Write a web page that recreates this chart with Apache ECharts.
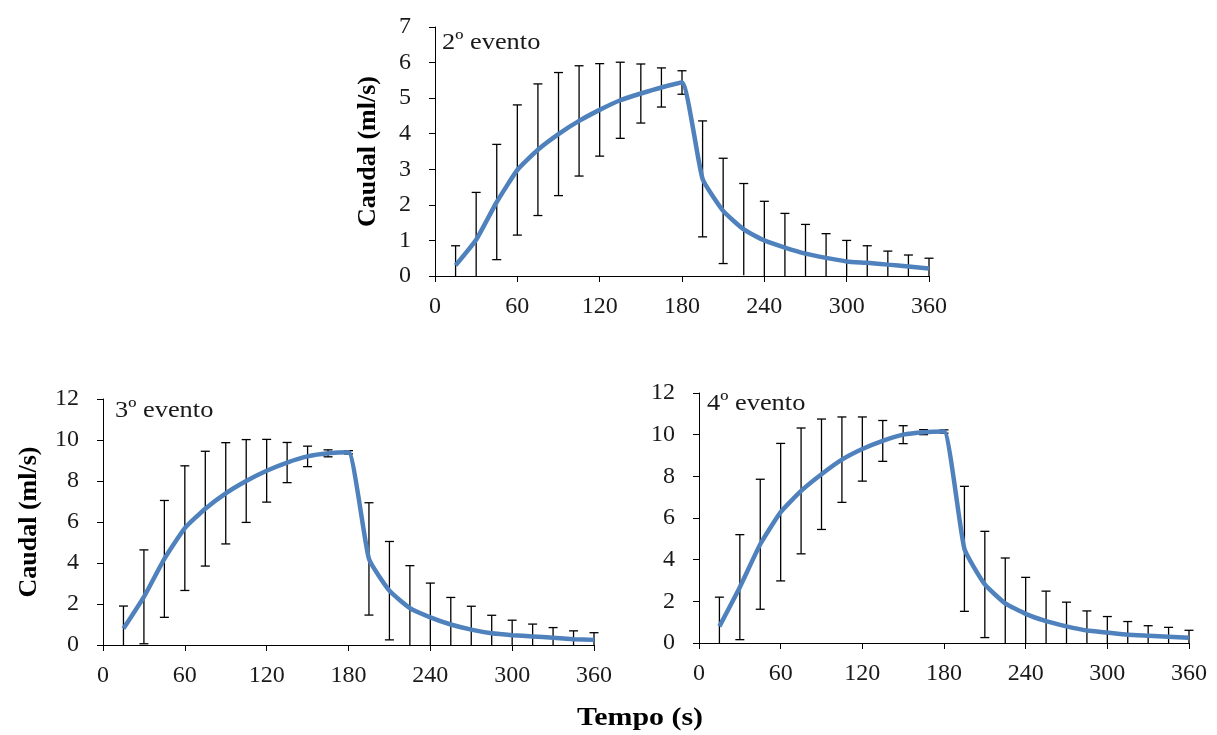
<!DOCTYPE html>
<html>
<head>
<meta charset="utf-8">
<script src="https://cdn.jsdelivr.net/npm/echarts@6/dist/echarts.min.js"></script>
<style>
html,body{margin:0;padding:0;background:#fff;}
#chart{width:1217px;height:735px;}
</style>
</head>
<body>
<div id="chart"></div>
<script>
// Time points (s)
const tempo = [15,30,45,60,75,90,105,120,135,150,165,180,195,210,225,240,255,270,285,300,315,330,345,360];
const xTicks = [0,60,120,180,240,300,360];

// 2º evento
const mean2 = [0.3,1.02,2.08,2.98,3.55,3.99,4.36,4.67,4.94,5.13,5.3,5.44,2.73,1.83,1.31,1.0,0.8,0.63,0.51,0.41,0.37,0.32,0.27,0.21];
const err2  = [0.55,1.33,1.62,1.83,1.85,1.73,1.55,1.3,1.07,0.83,0.55,0.33,1.63,1.48,1.29,1.1,0.96,0.82,0.68,0.59,0.48,0.38,0.32,0.29];

// 3º evento
const mean3 = [0.8,2.35,4.2,5.7,6.65,7.4,8.0,8.5,8.9,9.2,9.35,9.4,4.2,2.65,1.8,1.35,1.0,0.75,0.57,0.48,0.42,0.35,0.28,0.25];
const err3  = [1.1,2.29,2.85,3.04,2.8,2.47,2.02,1.53,0.98,0.5,0.17,0.08,2.74,2.4,2.07,1.67,1.32,1.14,0.88,0.73,0.6,0.5,0.41,0.35];

// 4º evento
const mean4 = [0.8,2.68,4.74,6.28,7.3,8.1,8.8,9.31,9.7,10.0,10.12,10.15,4.52,2.81,1.9,1.4,1.05,0.8,0.6,0.5,0.4,0.35,0.3,0.25];
const err4  = [1.4,2.52,3.12,3.3,3.02,2.65,2.05,1.54,0.98,0.43,0.12,0.08,3.0,2.55,2.18,1.75,1.44,1.16,0.94,0.77,0.63,0.48,0.45,0.36];

const labels = ['2º evento','3º evento','4º evento'];
const yName = 'Caudal (ml/s)';
const xName = 'Tempo (s)';

const FONT = "'Liberation Serif','Times New Roman',serif";
const LINE_COLOR = '#4f81bd';

function xAxisCfg(gi){
  return {
    type:'value', gridIndex:gi, min:0, max:360, interval:60,
    axisLine:{show:true,onZero:false,lineStyle:{color:'#000',width:1}},
    axisTick:{show:true,length:6,inside:false,lineStyle:{color:'#000'}},
    splitLine:{show:false},
    axisLabel:{fontFamily:FONT,fontSize:24,color:'#1a1a1a',margin:19}
  };
}
function yAxisCfg(gi,max,interval,name,gap){
  return {
    type:'value', gridIndex:gi, min:0, max:max, interval:interval,
    name:name||'', nameLocation:'middle', nameGap:gap||56, nameRotate:90,
    nameTextStyle:{fontFamily:FONT,fontSize:26,fontWeight:'bold',color:'#000'},
    axisLine:{show:true,lineStyle:{color:'#000',width:1}},
    axisTick:{show:true,length:6,inside:false,lineStyle:{color:'#000'}},
    splitLine:{show:false},
    axisLabel:{fontFamily:FONT,fontSize:24,color:'#1a1a1a',margin:24}
  };
}
function errSeries(gi,mean,err){
  const data = tempo.map((t,i)=>[t, Math.max(0,mean[i]-err[i]), mean[i]+err[i], mean[i]-err[i] > 0.04 ? 1 : 0]);
  return {
    type:'custom', xAxisIndex:gi, yAxisIndex:gi, z:2,
    renderItem:function(params,api){
      const x = api.value(0);
      const lo = api.coord([x, api.value(1)]);
      const hi = api.coord([x, api.value(2)]);
      const hw = 4.5;
      const st = {stroke:'#000', lineWidth:1.3};
      const ch = [
        {type:'line',shape:{x1:hi[0],y1:hi[1],x2:lo[0],y2:lo[1]},style:st},
        {type:'line',shape:{x1:hi[0]-hw,y1:hi[1],x2:hi[0]+hw,y2:hi[1]},style:st}
      ];
      if(api.value(3)) ch.push({type:'line',shape:{x1:lo[0]-hw,y1:lo[1],x2:lo[0]+hw,y2:lo[1]},style:st});
      return {type:'group',children:ch};
    },
    data:data, silent:true
  };
}
function lineSeries(gi,mean){
  return {
    type:'line', xAxisIndex:gi, yAxisIndex:gi, z:3,
    data: tempo.map((t,i)=>[t,mean[i]]),
    showSymbol:false, smooth:0.15,
    lineStyle:{color:LINE_COLOR,width:4.5},
    itemStyle:{color:LINE_COLOR}
  };
}

const chart = echarts.init(document.getElementById('chart'));
chart.setOption({
  backgroundColor:'#fff',
  animation:false,
  grid:[
    {left:435, top:27, width:494, height:249},
    {left:103, top:399, width:491, height:246},
    {left:699, top:393, width:490, height:250}
  ],
  xAxis:[xAxisCfg(0),xAxisCfg(1),xAxisCfg(2)],
  yAxis:[yAxisCfg(0,7,1,yName,54),yAxisCfg(1,12,2,yName,61),yAxisCfg(2,12,2,'',56)],
  series:[
    errSeries(0,mean2,err2), lineSeries(0,mean2),
    errSeries(1,mean3,err3), lineSeries(1,mean3),
    errSeries(2,mean4,err4), lineSeries(2,mean4)
  ],
  graphic:[
    {type:'text',x:442,y:43,scaleX:1.1,style:{text:labels[0],font:"24px "+FONT,fill:'#1a1a1a',textAlign:'left',textVerticalAlign:'middle'}},
    {type:'text',x:115,y:411,scaleX:1.1,style:{text:labels[1],font:"24px "+FONT,fill:'#1a1a1a',textAlign:'left',textVerticalAlign:'middle'}},
    {type:'text',x:707,y:404,scaleX:1.1,style:{text:labels[2],font:"24px "+FONT,fill:'#1a1a1a',textAlign:'left',textVerticalAlign:'middle'}},
    {type:'text',x:640,y:718,scaleX:1.15,style:{text:xName,font:"bold 26px "+FONT,fill:'#000',textAlign:'center',textVerticalAlign:'middle'}}
  ]
});
</script>
</body>
</html>
